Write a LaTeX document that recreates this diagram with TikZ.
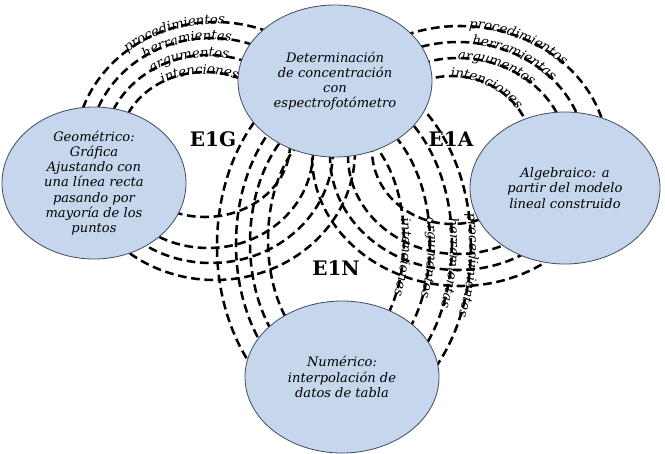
\documentclass[tikz,border=0pt]{standalone}
\usepackage{fontspec}
\setmainfont{DejaVu Serif}
\usetikzlibrary{shapes.geometric,decorations.text}

\definecolor{bubblefill}{RGB}{198,214,237}
\definecolor{bubbleline}{RGB}{65,75,95}

\newcommand{\lbl}{\itshape\fontsize{10}{12}\selectfont}

\tikzstyle{bubble} = [ellipse, draw=bubbleline, fill=bubblefill, line width=0.6pt, minimum height=114pt, inner sep=0pt, align=center, font=\fontsize{9.8}{11.4}\selectfont\itshape]
\tikzstyle{ring} = [draw, line width=1.9pt, dash pattern=on 6.5pt off 3.5pt]
\tikzstyle{strand} = [decorate, decoration={text along path, text align=center, raise=-1.5pt}]
\tikzstyle{stage} = [font=\fontsize{15}{18}\selectfont\bfseries]

\begin{document}
\begin{tikzpicture}[x=0.75pt, y=-0.75pt, node distance=76.5pt, auto]
    \useasboundingbox (0,0) rectangle (665,454);

    % centres of the rings
    \coordinate (gt) at (210,150);
    \coordinate (ta) at (458,156);
    \coordinate (tn) at (340,243);

    % rings geometrico - determinacion
    \draw[ring] (205,144.5) ellipse [x radius=85, y radius=72.5];
    \draw[ring] (208,151.5) ellipse [x radius=105, y radius=96.5];
    \draw[ring] (211,150.5) ellipse [x radius=122, y radius=112.5];
    \draw[ring] (215,151) ellipse [x radius=140, y radius=129];

    % rings determinacion - algebraico
    \draw[ring] (452,150) ellipse [x radius=80, y radius=74];
    \draw[ring] (ta) ellipse [x radius=110, y radius=98];
    \draw[ring] (ta) ellipse [x radius=128, y radius=114];
    \draw[ring] (460,156) ellipse [x radius=148, y radius=130];

    % rings determinacion - numerico
    \draw[ring] (336,240) ellipse [x radius=68, y radius=115];
    \draw[ring] (tn) ellipse [x radius=90, y radius=135];
    \draw[ring] (344,244) ellipse [x radius=108, y radius=155];
    \draw[ring] (344,246) ellipse [x radius=127, y radius=175];

    % labels on the rings
    \path[strand, decoration={text={|\lbl|procedimientos}}] (215,151) ++(212:140 and 129) arc[start angle=212, end angle=292, x radius=140, y radius=129];
    \path[strand, decoration={text={|\lbl|herramientas}}] (211,150.5) ++(218:122 and 112.5) arc[start angle=218, end angle=298, x radius=122, y radius=112.5];
    \path[strand, decoration={text={|\lbl|argumentos}}] (208,151.5) ++(219:105 and 96.5) arc[start angle=219, end angle=299, x radius=105, y radius=96.5];
    \path[strand, decoration={text={|\lbl|intenciones}}] (205,144.5) ++(226:85 and 72.5) arc[start angle=226, end angle=306, x radius=85, y radius=72.5];

    \path[strand, decoration={text={|\lbl|procedimientos}}] (460,156) ++(255:148 and 130) arc[start angle=255, end angle=335, x radius=148, y radius=130];
    \path[strand, decoration={text={|\lbl|herramientas}}] (ta) ++(258:128 and 114) arc[start angle=258, end angle=338, x radius=128, y radius=114];
    \path[strand, decoration={text={|\lbl|argumentos}}] (ta) ++(252:110 and 98) arc[start angle=252, end angle=332, x radius=110, y radius=98];
    \path[strand, decoration={text={|\lbl|intenciones}}] (452,150) ++(258:80 and 74) arc[start angle=258, end angle=338, x radius=80, y radius=74];

    \path[strand, decoration={text={|\lbl|procedimientos}}] (344,246) ++(-33:127 and 175) arc[start angle=-33, end angle=47, x radius=127, y radius=175];
    \path[strand, decoration={text={|\lbl|herramientas}}] (344,244) ++(-32:108 and 155) arc[start angle=-32, end angle=48, x radius=108, y radius=155];
    \path[strand, decoration={text={|\lbl|argumentos}}] (tn) ++(-33:90 and 135) arc[start angle=-33, end angle=47, x radius=90, y radius=135];
    \path[strand, decoration={text={|\lbl|intenciones}}] (336,240) ++(-30:68 and 115) arc[start angle=-30, end angle=50, x radius=68, y radius=115];

    % nodes
    \node[bubble, minimum width=145.5pt] (conc) at (335,81) {Determinación\\de concentración\\con\\espectrofotómetro};
    \node[bubble, minimum width=138pt, below of=conc, xshift=-180.75pt] (geom) {Geométrico:\\Gráfica\\Ajustando con\\una línea recta\\pasando por\\mayoría de los\\puntos};
    \node[bubble, minimum width=142.5pt, below of=conc, xshift=172.5pt, node distance=80.25pt] (alg) {Algebraico: a\\partir del modelo\\lineal construido};
    \node[bubble, minimum width=145.5pt, below of=conc, xshift=5.25pt, node distance=222pt] (num) {Numérico:\\interpolación de\\datos de tabla};

    % stages
    \node[stage] (e1g) at (213,139) {E1G};
    \node[stage] (e1a) at (451,139) {E1A};
    \node[stage] (e1n) at (336,268) {E1N};
\end{tikzpicture}
\end{document}
